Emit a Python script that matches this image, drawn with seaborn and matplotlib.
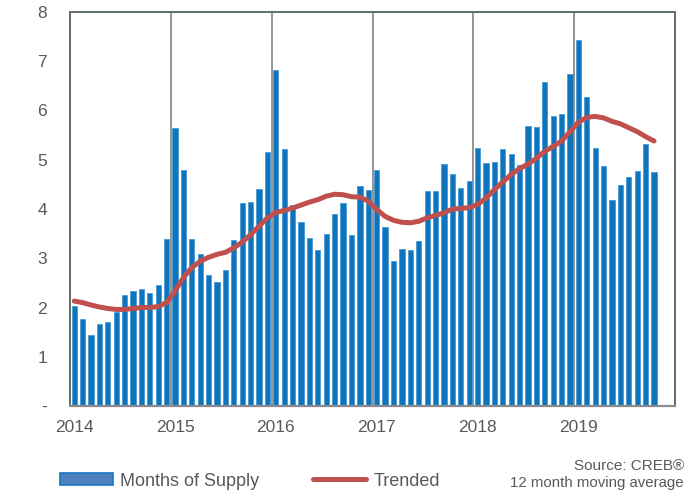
import matplotlib
matplotlib.use("Agg")
import matplotlib.pyplot as plt
import seaborn as sns
import pandas as pd
import numpy as np
from matplotlib.patches import Patch
from matplotlib.lines import Line2D

years = ["2014", "2015", "2016", "2017", "2018", "2019"]

supply = [
    2.04, 1.77, 1.44, 1.67, 1.71, 1.90, 2.25, 2.33, 2.37, 2.29, 2.46, 3.39,
    5.64, 4.80, 3.39, 3.08, 2.66, 2.51, 2.77, 3.37, 4.12, 4.14, 4.41, 5.16,
    6.82, 5.22, 4.09, 3.74, 3.41, 3.16, 3.50, 3.89, 4.12, 3.47, 4.46, 4.38,
    4.80, 3.63, 2.95, 3.19, 3.16, 3.35, 4.37, 4.37, 4.91, 4.72, 4.43, 4.56,
    5.23, 4.93, 4.95, 5.22, 5.11, 4.90, 5.69, 5.67, 6.57, 5.88, 5.93, 6.75,
    7.43, 6.27, 5.23, 4.87, 4.18, 4.49, 4.65, 4.78, 5.32, 4.76,
]

trended = [
    2.13, 2.10, 2.05, 2.01, 1.98, 1.96, 1.96, 1.98, 2.00, 2.00, 2.02, 2.10,
    2.33, 2.61, 2.81, 2.94, 3.02, 3.08, 3.12, 3.21, 3.33, 3.48, 3.65, 3.82,
    3.93, 3.97, 4.02, 4.08, 4.14, 4.19, 4.26, 4.30, 4.29, 4.25, 4.24, 4.16,
    3.99, 3.85, 3.77, 3.73, 3.72, 3.75, 3.82, 3.87, 3.92, 4.00, 4.01, 4.03,
    4.09, 4.22, 4.39, 4.55, 4.70, 4.82, 4.91, 5.03, 5.17, 5.27, 5.38, 5.57,
    5.76, 5.86, 5.88, 5.85, 5.78, 5.73, 5.65, 5.57, 5.47, 5.38,
]

ytick_labels = ["-", "1", "2", "3", "4", "5", "6", "7", "8"]

df = pd.DataFrame({
    "month": np.arange(len(supply)),
    "supply": supply,
    "trended": trended,
})

sns.set_style("white")
plt.rcParams["font.family"] = ["Liberation Sans", "DejaVu Sans"]

txt = "#595959"
bar_c = "#0E74BC"
line_c = "#C0504D"
grid_c = "#8C8C8C"
frame_c = "#5F6D69"

fig = plt.figure(figsize=(6.9, 4.97), dpi=100)
ax = fig.add_axes([70 / 690, 91 / 497, 605 / 690, 394 / 497])

sns.barplot(data=df, x="month", y="supply", native_scale=True, width=0.62,
            color=bar_c, edgecolor="#4A9BD8", linewidth=0.6, saturation=1,
            ax=ax)
sns.lineplot(data=df, x="month", y="trended", color=line_c, linewidth=3.6,
             ax=ax, solid_capstyle="round")

n_years = len(years)
ax.set_xlim(-0.5, 12 * n_years - 0.5)
ax.set_ylim(0, 8)

for k in range(1, n_years):
    ax.axvline(12 * k - 0.5, color=grid_c, linewidth=1.3, zorder=0.5)

ax.set_xticks([12 * k for k in range(n_years)])
ax.set_xticklabels(years)
ax.set_yticks(range(9))
ax.set_yticklabels(ytick_labels)
ax.tick_params(axis="x", length=0, pad=10, labelsize=12.5, labelcolor=txt)
ax.tick_params(axis="y", length=0, pad=16.5, labelsize=12.5, labelcolor=txt)
ax.set_xlabel("")
ax.set_ylabel("")

for s in ["top", "right", "left"]:
    ax.spines[s].set_visible(True)
    ax.spines[s].set_color(frame_c)
    ax.spines[s].set_linewidth(1.4)
ax.spines["bottom"].set_color(grid_c)
ax.spines["bottom"].set_linewidth(1.6)

handles = [
    Patch(facecolor="#4F81BD", edgecolor="#1577C6", linewidth=1.2),
    Line2D([0], [0], color=line_c, linewidth=3.6, solid_capstyle="round"),
]
fig.legend(handles, ["Months of Supply", "Trended"], loc="center left",
           bbox_to_anchor=(60 / 690, 16 / 497), ncol=2, frameon=False,
           fontsize=13, labelcolor=txt, handlelength=2.95, handleheight=0.65,
           handletextpad=0.4, columnspacing=2.95, borderpad=0,
           borderaxespad=0)

fig.text(684 / 690, (497 - 465.5) / 497, "Source: CREB®", ha="right",
         va="center", fontsize=11, color=txt)
fig.text(684 / 690, (497 - 483) / 497, "12 month moving average", ha="right",
         va="center", fontsize=10.8, color=txt)

fig.savefig("out.png", dpi=100)
